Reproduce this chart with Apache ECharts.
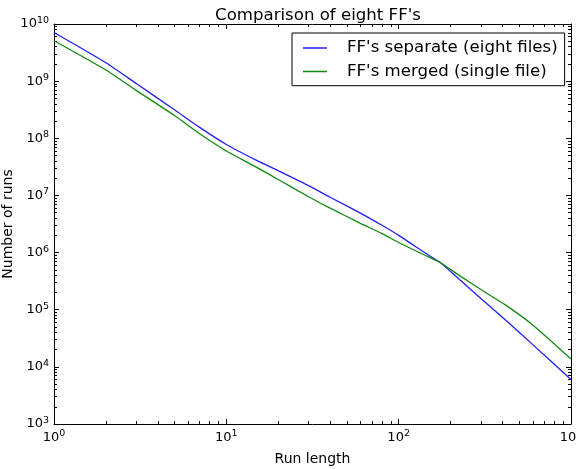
<!DOCTYPE html>
<html>
<head>
<meta charset="utf-8">
<script src="https://cdn.jsdelivr.net/npm/echarts@6/dist/echarts.min.js"></script>
<style>
html, body { margin: 0; padding: 0; background: #fff; }
#chart { width: 576px; height: 469px; }
</style>
</head>
<body>
<div id="chart"></div>
<script>
// values (log-log)
var runLength = [1, 2, 3, 5, 7, 10, 15, 20, 30, 40, 60, 80, 100, 150, 175, 230, 300, 420, 600, 1000];
var separateRuns = [7.1e9, 2.1e9, 9.1e8, 3.16e8, 1.55e8, 7.8e7, 4.1e7, 2.7e7, 1.48e7, 9.3e6, 4.9e6, 3.0e6, 2.0e6, 8.9e5, 6.65e5, 3.2e5, 1.57e5, 6.5e4, 2.45e4, 6.0e3];
var mergedRuns = [5.1e9, 1.57e9, 6.9e8, 2.5e8, 1.2e8, 6.0e7, 3.1e7, 1.9e7, 9.5e6, 6.0e6, 3.25e6, 2.15e6, 1.5e6, 8.3e5, 6.65e5, 3.8e5, 2.26e5, 1.19e5, 5.4e4, 1.37e4];
var seriesNames = ["FF's separate (eight files)", "FF's merged (single file)"];
var xMajor = [1, 10, 100, 1000];
var yMajor = [1e3, 1e4, 1e5, 1e6, 1e7, 1e8, 1e9, 1e10];

function minorOf(major) {
	var out = [];
	for (var i = 0; i < major.length - 1; i++) {
		for (var k = 2; k <= 9; k++) out.push(major[i] * k);
	}
	return out;
}
var xMinor = minorOf(xMajor);
var yMinor = minorOf(yMajor);

var font = 'DejaVu Sans';

function supLabel(v) {
	var n = Math.round(Math.log(v) / Math.LN10);
	return '{b|10}{e|' + n + '}';
}
var richLabel = {
	b: { fontSize: 13, fontFamily: font, color: '#000' },
	e: { fontSize: 9.5, fontFamily: font, color: '#000', padding: [0, 0, 7, 0] }
};

// grid 0 carries the frame, major ticks and labels; grid 1 (same box) only the minor ticks
function logAxis(dim, grid, pos, ticks, len, labels, line) {
	var ax = {
		type: 'log',
		logBase: 10,
		gridIndex: grid,
		position: pos,
		min: dim == 'x' ? 1 : 1e3,
		max: dim == 'x' ? 1000 : 1e10,
		splitLine: { show: false },
		axisLine: { show: line, onZero: false, lineStyle: { color: '#000', width: 1 } },
		axisTick: { show: true, inside: true, length: len, customValues: ticks, lineStyle: { color: '#000', width: 1 } },
		axisLabel: { show: labels, customValues: ticks, formatter: supLabel, rich: richLabel, margin: 5 }
	};
	return ax;
}

var xAxes = [
	logAxis('x', 0, 'bottom', xMajor, 5, true, true),
	logAxis('x', 0, 'top', xMajor, 5, false, true),
	logAxis('x', 1, 'bottom', xMinor, 3, false, false),
	logAxis('x', 1, 'top', xMinor, 3, false, false)
];
xAxes[0].name = 'Run length';
xAxes[0].nameLocation = 'middle';
xAxes[0].nameGap = 28;
xAxes[0].nameMoveOverlap = false;
xAxes[0].nameTextStyle = { fontSize: 14, fontFamily: font, color: '#000' };

var yAxes = [
	logAxis('y', 0, 'left', yMajor, 5, true, true),
	logAxis('y', 0, 'right', yMajor, 5, false, true),
	logAxis('y', 1, 'left', yMinor, 3, false, false),
	logAxis('y', 1, 'right', yMinor, 3, false, false)
];
yAxes[0].name = 'Number of runs';
yAxes[0].nameLocation = 'middle';
yAxes[0].nameRotate = 90;
yAxes[0].nameGap = 39;
yAxes[0].nameMoveOverlap = false;
yAxes[0].nameTextStyle = { fontSize: 14, fontFamily: font, color: '#000' };

function pairs(ys) {
	var out = [];
	for (var i = 0; i < runLength.length; i++) out.push([runLength[i], ys[i]]);
	return out;
}

var gridBox = { left: 54, right: 5, top: 24, bottom: 45, containLabel: false, outerBoundsMode: 'none' };

var chart = echarts.init(document.getElementById('chart'));
chart.setOption({
	animation: false,
	backgroundColor: '#fff',
	title: {
		text: 'Comparison of eight FF\'s',
		left: 313, top: 2, textAlign: 'center',
		textStyle: { fontSize: 16.6, fontWeight: 'normal', fontFamily: font, color: '#000' }
	},
	legend: {
		left: 292, top: 33,
		orient: 'vertical',
		data: seriesNames,
		// short line sample followed by blank space before the text
		icon: 'path://M0,0L24,0L24,1.5L0,1.5ZM39,0L39,1.5Z',
		itemWidth: 39, itemHeight: 1.5,
		itemGap: 4.4,
		padding: [5.5, 7, 4.8, 11],
		borderColor: '#000', borderWidth: 1, borderRadius: 0,
		backgroundColor: '#fff',
		textStyle: { fontSize: 16.6, fontFamily: font, color: '#000', lineHeight: 19 }
	},
	grid: [gridBox, gridBox],
	xAxis: xAxes,
	yAxis: yAxes,
	series: [
		{
			name: seriesNames[0], type: 'line', xAxisIndex: 0, yAxisIndex: 0,
			data: pairs(separateRuns), showSymbol: false, smooth: 0.2,
			lineStyle: { color: '#2020f0', width: 1.3 }, itemStyle: { color: '#2020f0' }
		},
		{
			name: seriesNames[1], type: 'line', xAxisIndex: 0, yAxisIndex: 0,
			data: pairs(mergedRuns), showSymbol: false, smooth: 0.2,
			lineStyle: { color: '#108a10', width: 1.3 }, itemStyle: { color: '#108a10' }
		}
	]
});
</script>
</body>
</html>
